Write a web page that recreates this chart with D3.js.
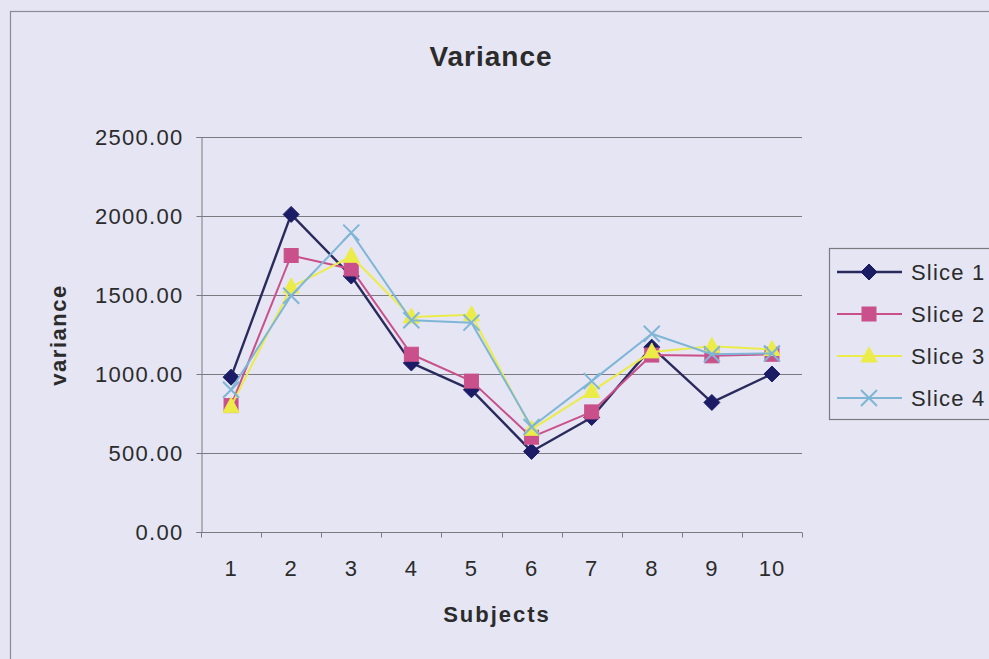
<!DOCTYPE html>
<html>
<head>
<meta charset="utf-8">
<script src="https://cdn.jsdelivr.net/npm/d3@7/dist/d3.min.js"></script>
<style>
  html, body { margin: 0; padding: 0; background: #e5e5f4; }
  svg { display: block; }
  text { font-family: "Liberation Sans", Arial, sans-serif; fill: #2b2b2b; }
</style>
</head>
<body>
<svg id="chart" width="989" height="659"></svg>
<script>
// Subjects on the category axis
const subjects = ["1", "2", "3", "4", "5", "6", "7", "8", "9", "10"];

// Variance per subject for each slice
const slice1 = [980, 2010, 1620, 1070, 900, 510, 725, 1170, 820, 1000];
const slice2 = [800, 1750, 1665, 1125, 955, 600, 760, 1120, 1115, 1125];
const slice3 = [795, 1550, 1745, 1360, 1375, 650, 890, 1140, 1175, 1155];
const slice4 = [900, 1495, 1895, 1340, 1325, 665, 955, 1255, 1125, 1130];

const seriesNames = ["Slice 1", "Slice 2", "Slice 3", "Slice 4"];
const yTicks = [0, 500, 1000, 1500, 2000, 2500];

const series = [
  { name: seriesNames[0], values: slice1, line: "#2a2a5c", fill: "#1c1c66", marker: "diamond", width: 2.4 },
  { name: seriesNames[1], values: slice2, line: "#c9508a", fill: "#c9508a", marker: "square", width: 2 },
  { name: seriesNames[2], values: slice3, line: "#ecec48", fill: "#ecec48", marker: "triangle", width: 2 },
  { name: seriesNames[3], values: slice4, line: "#7fb6d6", fill: "none", marker: "cross", width: 2 }
];

const svg = d3.select("#chart");
const plot = { left: 201, right: 802, top: 137, bottom: 532 };

const x = d3.scaleBand().domain(subjects).range([plot.left, plot.right]);
const y = d3.scaleLinear().domain([0, 2500]).range([plot.bottom, plot.top]);

// Chart frame
svg.append("rect")
  .attr("x", 10.5).attr("y", 11.5)
  .attr("width", 1000).attr("height", 700)
  .attr("fill", "#e5e5f4")
  .attr("stroke", "#8a8a96").attr("stroke-width", 1.2);

// Horizontal gridlines
svg.append("g").selectAll("line")
  .data(yTicks.filter(d => d > 0))
  .join("line")
  .attr("x1", plot.left).attr("x2", plot.right)
  .attr("y1", d => Math.round(y(d)) + 0.5).attr("y2", d => Math.round(y(d)) + 0.5)
  .attr("stroke", "#7a7a80").attr("stroke-width", 1);

// Value axis
const yAxis = svg.append("g")
  .attr("transform", `translate(${plot.left + 0.5},0)`)
  .call(d3.axisLeft(y).tickValues(yTicks).tickSize(5).tickPadding(13)
    .tickFormat(d3.format(".2f")));
yAxis.select(".domain").attr("stroke", "#7a7a80");
yAxis.selectAll(".tick line").attr("stroke", "#7a7a80");
yAxis.selectAll("text")
  .style("font-size", "22px").style("letter-spacing", "1.3px")
  .attr("fill", "#2b2b2b").attr("dy", "0.36em");

// Category axis: ticks on band boundaries, labels centred in each band
const xAxis = svg.append("g").attr("transform", `translate(0,${plot.bottom + 0.5})`);
xAxis.append("line")
  .attr("x1", plot.left).attr("x2", plot.right)
  .attr("stroke", "#7a7a80");
xAxis.selectAll("line.tick")
  .data(subjects.map(d => x(d)).concat([plot.right]))
  .join("line").attr("class", "tick")
  .attr("x1", d => Math.round(d) + 0.5).attr("x2", d => Math.round(d) + 0.5)
  .attr("y1", 0).attr("y2", 5)
  .attr("stroke", "#7a7a80");
xAxis.selectAll("text")
  .data(subjects)
  .join("text")
  .attr("x", d => x(d) + x.bandwidth() / 2)
  .attr("y", 43)
  .attr("text-anchor", "middle")
  .style("font-size", "22px").style("letter-spacing", "1px")
  .text(d => d);

// Title and axis titles
svg.append("text")
  .attr("x", 491).attr("y", 66)
  .attr("text-anchor", "middle")
  .style("font-size", "28px").style("font-weight", "bold").style("letter-spacing", "1px")
  .text("Variance");

svg.append("text")
  .attr("x", 497).attr("y", 622)
  .attr("text-anchor", "middle")
  .style("font-size", "22px").style("font-weight", "bold").style("letter-spacing", "2px")
  .text("Subjects");

svg.append("text")
  .attr("transform", "translate(66,335) rotate(-90)")
  .attr("text-anchor", "middle")
  .style("font-size", "22px").style("font-weight", "bold").style("letter-spacing", "1.5px")
  .text("variance");

// Marker shapes
function drawMarker(g, s, cx, cy) {
  if (s.marker === "diamond") {
    g.append("path")
      .attr("d", `M${cx},${cy - 8}L${cx + 8},${cy}L${cx},${cy + 8}L${cx - 8},${cy}Z`)
      .attr("fill", s.fill).attr("stroke", s.fill);
  } else if (s.marker === "square") {
    g.append("rect")
      .attr("x", cx - 7).attr("y", cy - 7).attr("width", 14).attr("height", 14)
      .attr("fill", s.fill).attr("stroke", s.fill);
  } else if (s.marker === "triangle") {
    g.append("path")
      .attr("d", `M${cx},${cy - 9}L${cx + 8},${cy + 6}L${cx - 8},${cy + 6}Z`)
      .attr("fill", s.fill).attr("stroke", s.fill);
  } else {
    g.append("path")
      .attr("d", `M${cx - 8},${cy - 8}L${cx + 8},${cy + 8}M${cx - 8},${cy + 8}L${cx + 8},${cy - 8}`)
      .attr("fill", "none").attr("stroke", s.line).attr("stroke-width", 2);
  }
}

// Series lines and markers
const line = d3.line()
  .x((d, i) => x(subjects[i]) + x.bandwidth() / 2)
  .y(d => y(d));

series.forEach(s => {
  const g = svg.append("g");
  g.append("path")
    .datum(s.values)
    .attr("d", line)
    .attr("fill", "none")
    .attr("stroke", s.line)
    .attr("stroke-width", s.width)
    .attr("stroke-linejoin", "round");
  s.values.forEach((v, i) => {
    drawMarker(g, s, x(subjects[i]) + x.bandwidth() / 2, y(v));
  });
});

// Legend
const legend = svg.append("g");
legend.append("rect")
  .attr("x", 829.5).attr("y", 248.5)
  .attr("width", 200).attr("height", 171)
  .attr("fill", "#e5e5f4")
  .attr("stroke", "#7a7a80").attr("stroke-width", 1.2);

const legendY = d3.scalePoint().domain(seriesNames).range([272, 398]);
series.forEach(s => {
  const ly = legendY(s.name);
  legend.append("line")
    .attr("x1", 837).attr("x2", 902)
    .attr("y1", ly).attr("y2", ly)
    .attr("stroke", s.line).attr("stroke-width", s.width);
  drawMarker(legend, s, 869, ly);
  legend.append("text")
    .attr("x", 911).attr("y", ly + 8)
    .style("font-size", "22px").style("letter-spacing", "1.2px")
    .text(s.name);
});
</script>
</body>
</html>
